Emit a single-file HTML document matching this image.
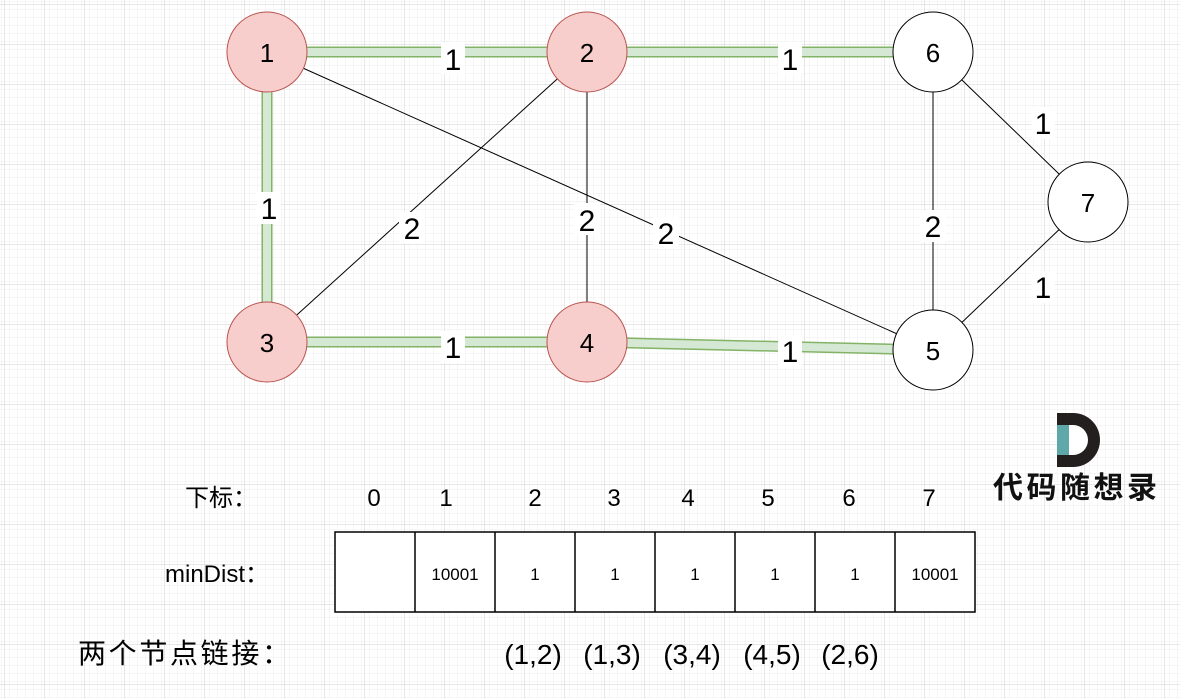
<!DOCTYPE html>
<html><head><meta charset="utf-8"><style>
html,body{margin:0;padding:0;width:1180px;height:698px;overflow:hidden;background:#fff}
svg{display:block}
text{font-family:"Liberation Sans","Noto Sans CJK SC",sans-serif}
</style></head><body>
<svg width="1180" height="698" viewBox="0 0 1180 698" xmlns="http://www.w3.org/2000/svg">
<defs>
<pattern id="minor" width="8" height="8" patternUnits="userSpaceOnUse" x="4.5" y="4.5">
<path d="M0 0V8M0 0H8" fill="none" stroke="#ececec" stroke-width="1"/>
</pattern>
<pattern id="major" width="40" height="40" patternUnits="userSpaceOnUse" x="4.5" y="4.5">
<rect width="40" height="40" fill="url(#minor)"/>
<path d="M0 0V40M0 0H40" fill="none" stroke="#d0d0d0" stroke-width="1"/>
</pattern>
</defs>
<rect width="1180" height="698" fill="url(#major)"/>

<g stroke="#82b366" stroke-width="11" fill="none">
<line x1="267" y1="52" x2="587" y2="52"/>
<line x1="587" y1="52" x2="933" y2="52"/>
<line x1="267" y1="52" x2="267" y2="342"/>
<line x1="267" y1="342" x2="587" y2="342"/>
<line x1="587" y1="342" x2="933" y2="350"/>
</g>
<g stroke="#d5e8d4" stroke-width="8" fill="none">
<line x1="267" y1="52" x2="587" y2="52"/>
<line x1="587" y1="52" x2="933" y2="52"/>
<line x1="267" y1="52" x2="267" y2="342"/>
<line x1="267" y1="342" x2="587" y2="342"/>
<line x1="587" y1="342" x2="933" y2="350"/>
</g>
<g stroke="#000" stroke-width="1" fill="none">
<line x1="267" y1="52" x2="933" y2="350"/>
<line x1="587" y1="52" x2="267" y2="342"/>
<line x1="587" y1="52" x2="587" y2="342"/>
<line x1="933" y1="52" x2="933" y2="350"/>
<line x1="933" y1="52" x2="1088" y2="202"/>
<line x1="1088" y1="202" x2="933" y2="350"/>
</g>
<g font-size="30" text-anchor="middle" fill="#000">
<rect x="441" y="42" width="24" height="32" fill="#fff"/><text x="453" y="70">1</text>
<rect x="778" y="42" width="24" height="32" fill="#fff"/><text x="790" y="70">1</text>
<rect x="257" y="192" width="24" height="32" fill="#fff"/><text x="269" y="219">1</text>
<rect x="441" y="331" width="24" height="32" fill="#fff"/><text x="453" y="358">1</text>
<rect x="778" y="335" width="24" height="32" fill="#fff"/><text x="790" y="362">1</text>
<rect x="399" y="212" width="26" height="32" fill="#fff"/><text x="412" y="239">2</text>
<rect x="574" y="203" width="26" height="32" fill="#fff"/><text x="587" y="231">2</text>
<rect x="653" y="217" width="26" height="32" fill="#fff"/><text x="666" y="244">2</text>
<rect x="920" y="210" width="26" height="32" fill="#fff"/><text x="933" y="237">2</text>
<rect x="1031" y="107" width="24" height="32" fill="#fff"/><text x="1043" y="134">1</text>
<rect x="1031" y="271" width="24" height="32" fill="#fff"/><text x="1043" y="298">1</text>
</g>
<g stroke-width="1">
<circle cx="267" cy="52" r="40" fill="#f8cecc" stroke="#b85450"/>
<circle cx="587" cy="52" r="40" fill="#f8cecc" stroke="#b85450"/>
<circle cx="267" cy="342" r="40" fill="#f8cecc" stroke="#b85450"/>
<circle cx="587" cy="342" r="40" fill="#f8cecc" stroke="#b85450"/>
<circle cx="933" cy="52" r="40" fill="#fff" stroke="#000"/>
<circle cx="1088" cy="202" r="40" fill="#fff" stroke="#000"/>
<circle cx="933" cy="350" r="40" fill="#fff" stroke="#000"/>
</g>
<g font-size="26" text-anchor="middle" fill="#000">
<text x="267" y="62">1</text><text x="587" y="62">2</text>
<text x="267" y="352">3</text><text x="587" y="352">4</text>
<text x="933" y="62">6</text><text x="1088" y="212">7</text><text x="933" y="360">5</text>
</g>
<path d="M1057 413h16a27 27 0 0 1 0 54h-16z" fill="#231f1f"/>
<rect x="1057" y="425" width="12" height="30" fill="#5fa8a9"/>
<path d="M1069 425h4a15 15 0 0 1 0 30h-4z" fill="#fff"/>
<text x="1075" y="498" font-size="30" font-weight="bold" text-anchor="middle" font-family="'Noto Serif CJK SC',serif" fill="#111" textLength="164">代码随想录</text>

<g font-size="24" fill="#000">
<text x="185" y="506">下标：</text>
<text x="165" y="582">minDist：</text>
<text x="78" y="663" font-size="28" textLength="212">两个节点链接：</text>
</g>
<g font-size="24" text-anchor="middle" fill="#000">
<text x="374" y="506">0</text><text x="446" y="506">1</text><text x="535" y="506">2</text>
<text x="614" y="506">3</text><text x="688" y="506">4</text><text x="768" y="506">5</text>
<text x="849" y="506">6</text><text x="929" y="506">7</text>
</g>
<rect x="335" y="532" width="640" height="80" fill="#fff" stroke="#000" stroke-width="1.5"/>
<g stroke="#000" stroke-width="1.5">
<line x1="415" y1="532" x2="415" y2="612"/><line x1="495" y1="532" x2="495" y2="612"/>
<line x1="575" y1="532" x2="575" y2="612"/><line x1="655" y1="532" x2="655" y2="612"/>
<line x1="735" y1="532" x2="735" y2="612"/><line x1="815" y1="532" x2="815" y2="612"/>
<line x1="895" y1="532" x2="895" y2="612"/>
</g>
<g font-size="17" text-anchor="middle" fill="#000">
<text x="455" y="580">10001</text><text x="535" y="580">1</text><text x="615" y="580">1</text>
<text x="695" y="580">1</text><text x="775" y="580">1</text><text x="855" y="580">1</text>
<text x="935" y="580">10001</text>
</g>
<g font-size="28" text-anchor="middle" fill="#000">
<text x="533" y="664">(1,2)</text><text x="612" y="664">(1,3)</text><text x="692" y="664">(3,4)</text>
<text x="772" y="664">(4,5)</text><text x="850" y="664">(2,6)</text>
</g>
</svg>
</body></html>
